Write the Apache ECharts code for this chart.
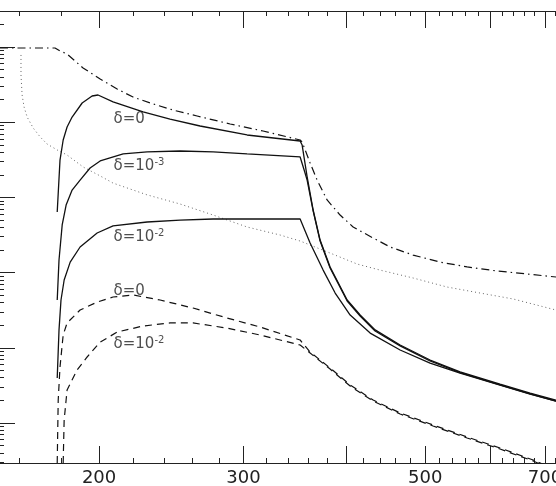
<!DOCTYPE html>
<html><head><meta charset="utf-8">
<script src="https://cdn.jsdelivr.net/npm/echarts@6/dist/echarts.min.js"></script>
<style>html,body{margin:0;padding:0;background:#fff}#c{width:556px;height:486px}</style>
</head><body><div id="c"></div>
<script>
// ---- axis ranges and ticks ----
const X_MIN = 151.4, X_MAX = 721.9;
const Y_MIN = 2.94, Y_MAX = 3.01e6;
const xMajorTicks = [200, 300, 400, 500, 600, 700];
const xMinorTicks = [160, 180, 220, 240, 260, 280, 320, 340, 360, 380, 420, 440, 460, 480, 520, 540, 560, 580, 620, 640, 660, 680, 720];
const xTickLabels = [200, 300, 500, 700];
const yMajorTicks = [10, 100, 1000, 10000, 100000, 1000000];
const yMinorTicks = [3, 4, 5, 6, 7, 8, 9,
  20, 30, 40, 50, 60, 70, 80, 90,
  200, 300, 400, 500, 600, 700, 800, 900,
  2000, 3000, 4000, 5000, 6000, 7000, 8000, 9000,
  20000, 30000, 40000, 50000, 60000, 70000, 80000, 90000,
  200000, 300000, 400000, 500000, 600000, 700000, 800000, 900000,
  2000000, 3000000];

// ---- series (x, y) ----
const dashDot = [[151.4,970000],[176.7,970000],[179.2,885000],[182.8,807000],[191.2,526000],[200.6,375000],[210.4,276000],[220.0,216000],[232.8,175000],[246.2,145000],[263.4,121000],[289.0,94600],[317.0,76400],[351.8,58000],[353.8,54500],[361.8,28700],[369.0,17000],[379.5,9240],[393.6,5830],[408.3,4040],[431.9,2880],[453.0,2190],[483.2,1710],[521.3,1380],[562.4,1190],[611.7,1050],[665.7,958],[721.9,874]];
const dotted = [[160.6,783000],[160.6,424000],[161.1,230000],[162.0,159000],[163.4,117000],[166.2,83700],[169.5,63600],[172.8,51300],[177.8,42700],[182.8,36600],[191.2,25400],[200.6,19300],[208.0,15500],[228.9,10800],[251.1,8170],[275.5,5830],[303.1,4040],[332.6,3160],[351.8,2630],[382.7,1820],[412.9,1300],[440.4,1080],[483.2,848],[531.6,643],[583.3,535],[640.0,446],[721.9,318]];
const solidD0 = [[177.8,6400],[179.2,31400],[180.8,58000],[182.8,86300],[185.4,117000],[190.7,180000],[196.1,223000],[199.4,230000],[208.0,186000],[226.3,137000],[244.1,110000],[265.6,89000],[303.1,67600],[351.8,56200],[353.8,49700],[358.8,18700],[364.9,6800],[372.1,2710],[382.7,1190],[401.5,432],[416.4,273],[434.3,173],[465.9,109],[506.8,68.8],[551.4,48.0],[616.9,33.0],[671.3,25.0],[721.9,20.2]];
const solidD3 = [[177.8,432],[178.7,1470],[180.3,4300],[182.3,7920],[185.4,12500],[189.6,17000],[195.0,24600],[200.6,30500],[214.0,37800],[228.9,40200],[251.1,41400],[275.5,40200],[303.1,37800],[351.8,34500],[355.8,23100],[358.8,17000],[364.9,6600],[372.1,2630],[382.7,1150],[401.5,419],[416.4,265],[434.3,167],[465.9,106],[506.8,66.8],[551.4,46.8],[616.9,32.2],[671.3,24.4],[721.9,19.6]];
const solidD2 = [[177.8,39.7],[178.7,173],[179.7,432],[181.3,798],[184.4,1380],[189.6,2190],[198.9,3360],[208.0,4170],[228.9,4710],[251.1,5000],[275.5,5160],[303.1,5160],[351.8,5160],[361.8,2480],[375.3,1080],[388.2,535],[404.9,273],[428.3,157],[465.9,93.5],[506.8,62.5],[551.4,46.0],[616.9,32.0],[671.3,24.2],[721.9,19.5]];
const dashedD0 = [[177.8,2.94],[178.3,20.2],[179.2,55.6],[180.8,148],[182.8,214],[189.6,318],[198.9,406],[208.0,474],[220.0,504],[237.4,432],[260.4,338],[286.5,249],[314.4,189],[351.8,127],[361.8,87.9],[382.7,53.9],[404.9,32.0],[431.9,20.2],[465.9,13.6],[511.1,9.41],[562.4,6.52],[616.9,4.65],[677.1,3.22],[721.9,2.37]];
const dashedD2 = [[180.8,2.94],[181.3,11.0],[182.3,20.2],[182.8,27.5],[188.0,50.7],[193.4,75.5],[200.6,119],[210.4,162],[226.3,195],[244.1,214],[260.4,214],[286.5,183],[314.4,148],[351.8,109],[361.8,85.3],[382.7,52.2],[404.9,31.0],[431.9,19.6],[465.9,13.2],[511.1,9.12],[562.4,6.32],[616.9,4.51],[677.1,3.12],[721.9,2.30]];

// ---- curve annotations ----
const annotationTexts = ['{b|δ=0}', '{b|δ=10}{s|-3}', '{b|δ=10}{s|-2}', '{b|δ=0}', '{b|δ=10}{s|-2}'];
const annotationAnchors = [[208.0,110000],[208.0,26200],[208.0,2970],[208.0,569],[208.0,112]];

const chart = echarts.init(document.getElementById('c'));
const lineCol = '#111';
const axisCol = '#222';
const L = Math.log10;
// Data grid: real log axes, hidden; tick grids: value axes on log10 of the same range.
function hiddenLog(gridIndex, min, max) {
  return {type: 'log', logBase: 10, gridIndex, min, max, show: false,
    splitLine: {show: false}, axisLine: {show: false}, axisTick: {show: false}, axisLabel: {show: false}};
}
function xTickAx(gridIndex, position, ticks, len, showLine, labels) {
  return {
    type: 'value', gridIndex, position, min: L(X_MIN), max: L(X_MAX),
    splitLine: {show: false}, minorTick: {show: false},
    axisLine: {show: showLine, onZero: false, lineStyle: {color: axisCol, width: 1}},
    axisTick: {show: true, inside: true, length: len, customValues: ticks.map(L), lineStyle: {color: axisCol, width: 1}},
    axisLabel: labels ? {show: true, customValues: labels.map(L), formatter: v => String(Math.round(Math.pow(10, v))),
      fontSize: 18, color: '#222', margin: 6, fontFamily: 'DejaVu Sans', hideOverlap: false} : {show: false}
  };
}
function yTickAx(gridIndex, ticks, len) {
  return {
    type: 'value', gridIndex, position: 'left', min: L(Y_MIN), max: L(Y_MAX),
    splitLine: {show: false}, minorTick: {show: false},
    axisLine: {show: false},
    axisTick: {show: true, inside: true, length: len, customValues: ticks.map(L), lineStyle: {color: axisCol, width: 1}},
    axisLabel: {show: false}
  };
}
function lineSeries(data, type, width, color) {
  return {type: 'line', data, xAxisIndex: 0, yAxisIndex: 0, symbol: 'none', smooth: false,
    lineStyle: {type, width, color}, z: 3};
}
const gridRect = {left: 0, right: 0, top: 11, bottom: 23, containLabel: false, outerBoundsMode: 'none'};
chart.setOption({
  animation: false,
  backgroundColor: '#fff',
  grid: [Object.assign({}, gridRect), Object.assign({}, gridRect), Object.assign({}, gridRect)],
  xAxis: [
    hiddenLog(0, X_MIN, X_MAX),
    xTickAx(1, 'bottom', xMajorTicks, 17, true, xTickLabels),
    xTickAx(1, 'top', xMajorTicks, 17, true, null),
    xTickAx(2, 'bottom', xMinorTicks, 5, false, null),
    xTickAx(2, 'top', xMinorTicks, 5, false, null)
  ],
  yAxis: [hiddenLog(0, Y_MIN, Y_MAX), yTickAx(1, yMajorTicks, 15), yTickAx(2, yMinorTicks, 4)],
  series: [
    lineSeries(dashDot, [8, 4, 1.5, 4], 1.2, lineCol),
    lineSeries(dotted, [1, 3], 1, '#666'),
    lineSeries(solidD0, 'solid', 1.3, lineCol),
    lineSeries(solidD3, 'solid', 1.3, lineCol),
    lineSeries(solidD2, 'solid', 1.3, lineCol),
    lineSeries(dashedD0, [7, 5], 1.2, lineCol),
    lineSeries(dashedD2, [7, 5], 1.2, lineCol),
    {
      type: 'scatter', xAxisIndex: 0, yAxisIndex: 0, symbolSize: 1,
      itemStyle: {color: 'rgba(0,0,0,0)'}, z: 5,
      data: annotationAnchors.map((p, i) => ({value: p, label: {formatter: annotationTexts[i]}})),
      label: {
        show: true, position: 'right', distance: 0,
        rich: {
          b: {fontSize: 15, fontFamily: 'DejaVu Sans', color: '#222', lineHeight: 18},
          s: {fontSize: 10, fontFamily: 'DejaVu Sans', color: '#222', lineHeight: 10, verticalAlign: 'top'}
        }
      }
    }
  ]
});
</script></body></html>
